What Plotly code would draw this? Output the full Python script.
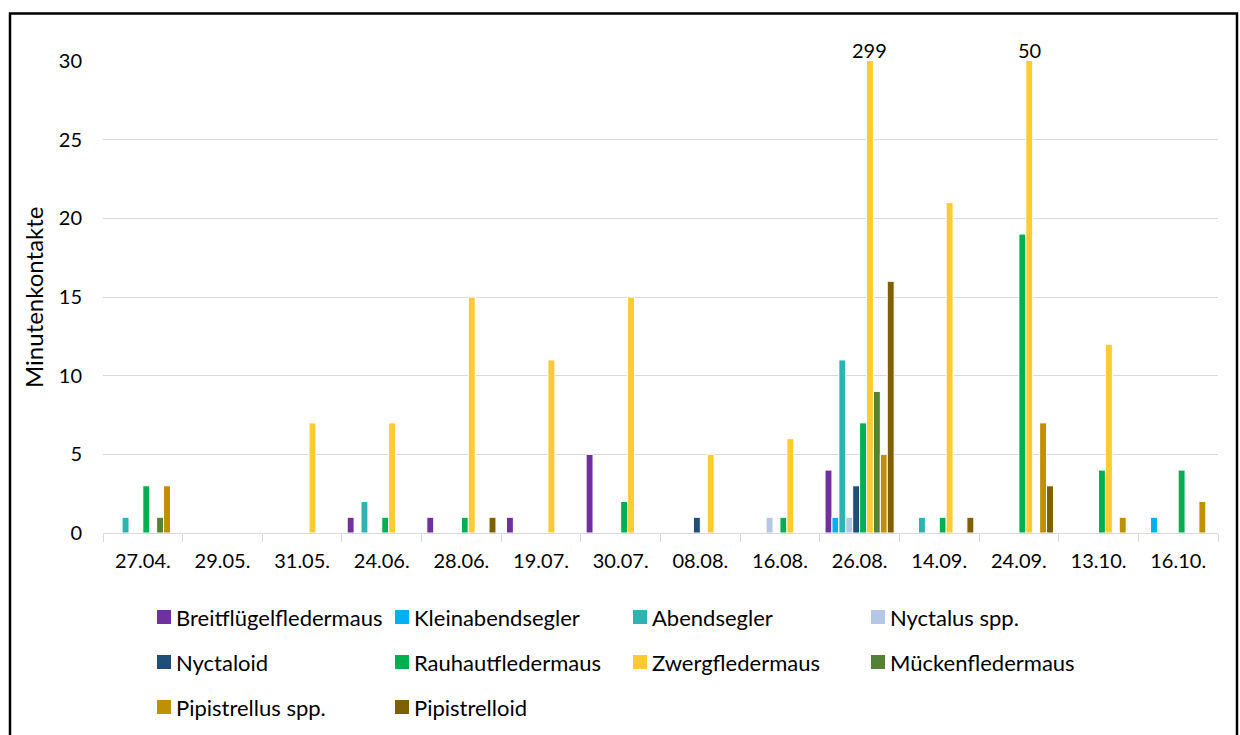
import plotly.graph_objects as go

# Survey dates (categories)
dates = ["27.04.", "29.05.", "31.05.", "24.06.", "28.06.", "19.07.", "30.07.",
         "08.08.", "16.08.", "26.08.", "14.09.", "24.09.", "13.10.", "16.10."]

# Minute contacts per species group and date
breitfluegelfledermaus = [0, 0, 0, 1, 1, 1, 5, 0, 0, 4, 0, 0, 0, 0]
kleinabendsegler = [0, 0, 0, 0, 0, 0, 0, 0, 0, 1, 0, 0, 0, 1]
abendsegler = [1, 0, 0, 2, 0, 0, 0, 0, 0, 11, 1, 0, 0, 0]
nyctalus_spp = [0, 0, 0, 0, 0, 0, 0, 0, 1, 1, 0, 0, 0, 0]
nyctaloid = [0, 0, 0, 0, 0, 0, 0, 1, 0, 3, 0, 0, 0, 0]
rauhautfledermaus = [3, 0, 0, 1, 1, 0, 2, 0, 1, 7, 1, 19, 4, 4]
zwergfledermaus = [0, 0, 7, 7, 15, 11, 15, 5, 6, 299, 21, 50, 12, 0]
mueckenfledermaus = [1, 0, 0, 0, 0, 0, 0, 0, 0, 9, 0, 0, 0, 0]
pipistrellus_spp = [3, 0, 0, 0, 0, 0, 0, 0, 0, 5, 0, 7, 1, 2]
pipistrelloid = [0, 0, 0, 0, 1, 0, 0, 0, 0, 16, 1, 3, 0, 0]

series_names = ["Breitflügelfledermaus", "Kleinabendsegler", "Abendsegler", "Nyctalus spp.",
                "Nyctaloid", "Rauhautfledermaus", "Zwergfledermaus", "Mückenfledermaus",
                "Pipistrellus spp.", "Pipistrelloid"]
series_values = [breitfluegelfledermaus, kleinabendsegler, abendsegler, nyctalus_spp,
                 nyctaloid, rauhautfledermaus, zwergfledermaus, mueckenfledermaus,
                 pipistrellus_spp, pipistrelloid]
series_colors = ["#7030A0", "#00B0F0", "#2EB2B2", "#B4C7E7", "#1F4E79",
                 "#00B050", "#FFCA32", "#548235", "#BF9000", "#7F6000"]

y_ticks = [0, 5, 10, 15, 20, 25, 30]
y_max = 30

FONT = "Lato"
TICK_SIZE = 20
LEGEND_SIZE = 22
TITLE_SIZE = 24
TEXT_COLOR = "#000000"
GRID_COLOR = "#D9D9D9"

W, H = 1240, 735
M_L, M_R, M_T, M_B = 103, 22, 61, 202
PLOT_W = W - M_L - M_R
PLOT_H = H - M_T - M_B
BARGAP = 0.132


def px_x(px):
    return (px - M_L) / PLOT_W


def px_y(py):
    return (H - M_B - py) / PLOT_H


fig = go.Figure()
for name, vals, col in zip(series_names, series_values, series_colors):
    fig.add_trace(go.Bar(
        x=dates, y=vals, name=name,
        marker=dict(color=col, line=dict(color="white", width=1)),
        showlegend=False,
    ))

# Values beyond the axis maximum are written above their clipped bar
n_series = len(series_names)
slot = (1 - BARGAP) / n_series
annotations = []
for s_idx, vals in enumerate(series_values):
    for c_idx, v in enumerate(vals):
        if v > y_max:
            annotations.append(dict(
                x=c_idx + (s_idx - (n_series - 1) / 2) * slot, y=y_max,
                xref="x", yref="y", text=str(v), showarrow=False,
                yanchor="bottom", yshift=-3,
                font=dict(family=FONT, size=TICK_SIZE, color=TEXT_COLOR),
            ))

# Y axis title
annotations.append(dict(
    x=px_x(33), y=0.5, xref="paper", yref="paper", text="Minutenkontakte",
    textangle=-90, showarrow=False, xanchor="center", yanchor="middle",
    font=dict(family=FONT, size=TITLE_SIZE, color=TEXT_COLOR),
))

# Legend laid out in four columns
shapes = []
col_x0, col_step = 157, 238
row_y = [617, 662, 707]
sq = 14
for i, (name, col) in enumerate(zip(series_names, series_colors)):
    r, c = divmod(i, 4)
    x0 = col_x0 + c * col_step
    yc = row_y[r]
    shapes.append(dict(
        type="rect", xref="paper", yref="paper",
        x0=px_x(x0), x1=px_x(x0 + sq), y0=px_y(yc + sq / 2), y1=px_y(yc - sq / 2),
        fillcolor=col, line=dict(width=0),
    ))
    annotations.append(dict(
        x=px_x(x0 + sq + 3), y=px_y(yc), xref="paper", yref="paper",
        text=name, showarrow=False, xanchor="left", yanchor="middle",
        font=dict(family=FONT, size=LEGEND_SIZE, color=TEXT_COLOR),
    ))

# Chart frame
shapes.append(dict(
    type="rect", xref="paper", yref="paper",
    x0=px_x(10), x1=px_x(1237), y0=px_y(760), y1=px_y(13.5),
    line=dict(color="black", width=2.5), fillcolor="rgba(0,0,0,0)", layer="above",
))

fig.update_layout(
    width=W, height=H,
    margin=dict(l=M_L, r=M_R, t=M_T, b=M_B, pad=0),
    paper_bgcolor="white", plot_bgcolor="white",
    barmode="group", bargap=BARGAP, bargroupgap=0,
    font=dict(family=FONT, size=TICK_SIZE, color=TEXT_COLOR),
    annotations=annotations, shapes=shapes,
    showlegend=False,
)
fig.update_xaxes(
    type="category", showgrid=False,
    showline=True, linecolor=GRID_COLOR, linewidth=1.3,
    ticks="outside", tickson="boundaries", ticklen=8, tickcolor=GRID_COLOR, tickwidth=1.3,
    tickfont=dict(family=FONT, size=TICK_SIZE, color=TEXT_COLOR),
    ticklabelstandoff=10,
)
fig.update_yaxes(
    range=[0, y_max], tickvals=y_ticks, showgrid=True, gridcolor=GRID_COLOR, gridwidth=1.3,
    zeroline=False, showline=False, ticks="",
    tickfont=dict(family=FONT, size=TICK_SIZE, color=TEXT_COLOR),
    ticklabelstandoff=20,
)

fig.write_html("out.html")
